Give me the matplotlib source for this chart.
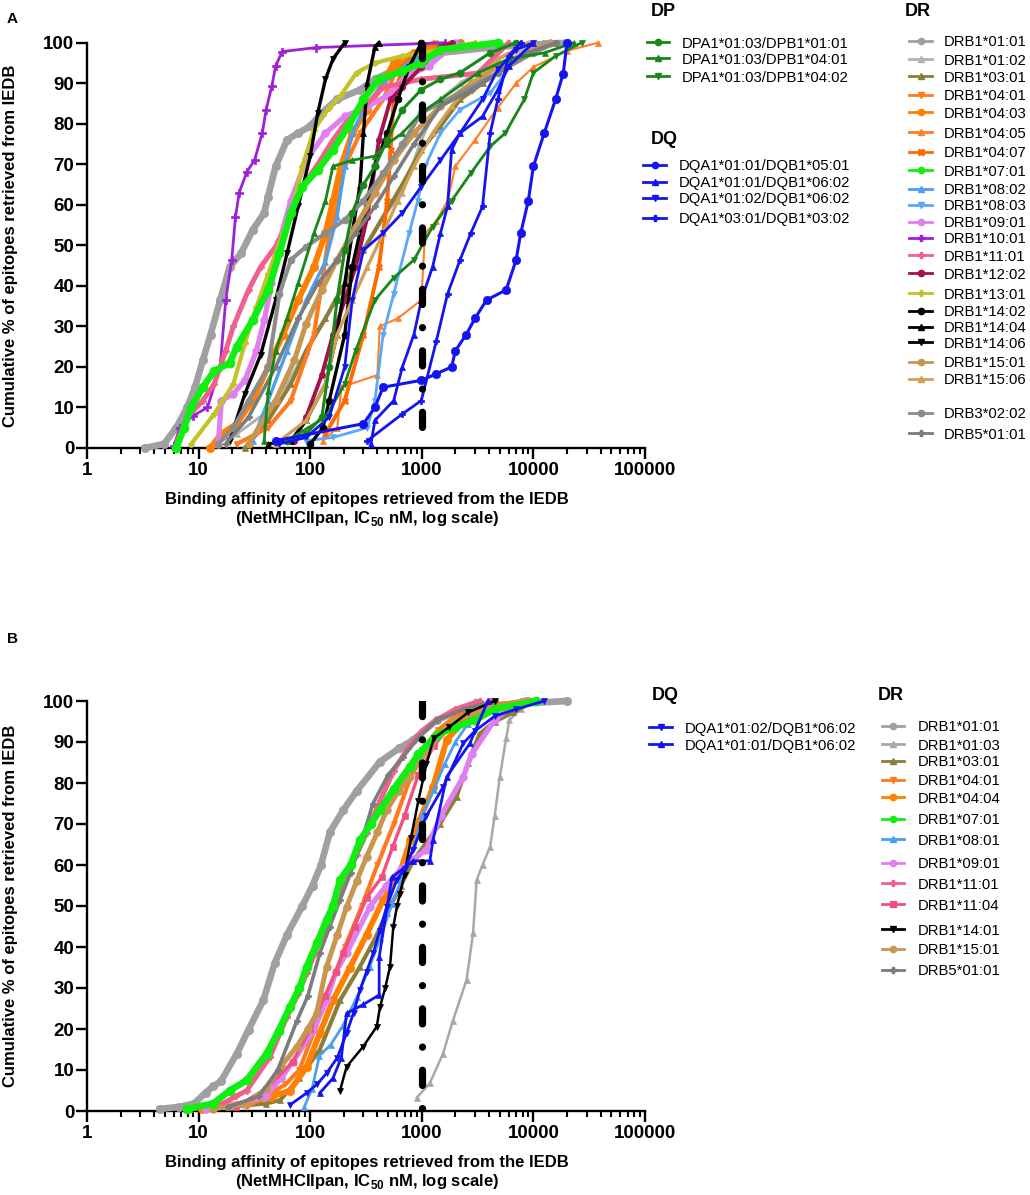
import matplotlib
matplotlib.use("Agg")
import matplotlib.pyplot as plt
from matplotlib.lines import Line2D
from matplotlib.ticker import LogLocator, NullFormatter

plt.rcParams['font.family'] = ['Liberation Sans', 'DejaVu Sans']
plt.rcParams['mathtext.fontset'] = 'custom'
plt.rcParams['mathtext.rm'] = 'Liberation Sans'
plt.rcParams['mathtext.bf'] = 'Liberation Sans:bold'

# ---------------- data (IC50 nM vs cumulative %) ----------------
THRESHOLD_NM = 1000
XTICKS = [1, 10, 100, 1000, 10000, 100000]
XTICK_LABELS = ['1', '10', '100', '1000', '10000', '100000']
YTICKS = list(range(0, 101, 10))

# panel A
A_DRB1_0101_x = [3.3, 4.9, 6.3, 7.9, 9.3, 10.9, 12.8, 15.6, 19, 24, 30.5, 38.7, 41.9, 49, 62, 78, 100, 127, 174, 280, 380, 670, 1470, 4800, 20000]
A_DRB1_0101_y = [0, 1, 5, 10, 15, 21.6, 28, 36.5, 44.7, 48, 53.8, 58, 62, 69.5, 76, 77.7, 79.4, 82.7, 86, 88.4, 91, 94.2, 97.5, 99, 100]
A_DRB1_0102_x = [13.8, 22, 38.7, 62, 92, 137, 204, 300, 450, 670, 990, 1470, 2200, 4800, 10000, 14000]
A_DRB1_0102_y = [1, 3.5, 8.4, 15.8, 24, 32, 40.6, 49, 57, 63, 76, 86, 90, 96, 99, 100]
A_DRB1_0301_x = [26, 42, 67, 92, 137, 204, 300, 450, 670, 990, 1470, 2200, 3500, 7000, 15800]
A_DRB1_0301_y = [0, 6.8, 15.8, 24, 32, 40.6, 48.8, 57, 65, 73.6, 79.4, 86, 90, 96, 100]
A_DRB1_0401_x = [22, 42, 67, 108, 127, 148, 174, 204, 280, 450, 610, 990, 2200]
A_DRB1_0401_y = [1, 5, 11.7, 28, 40.6, 53, 59.6, 69.5, 77.7, 86, 94, 98.3, 100]
A_DRB1_0403_x = [12.7, 16, 22, 30.5, 42, 57, 78, 108, 137, 160, 188, 238, 325, 450, 560, 850, 2200]
A_DRB1_0403_y = [0, 3.5, 6, 11.7, 20, 28, 36.5, 44.7, 53, 61, 69.5, 77.7, 83.5, 90, 95, 97.5, 100]
A_DRB1_0405_x = [130, 175, 190, 400, 420, 610, 990, 1070, 1350, 1700, 2000, 3000, 4800, 7000, 10000, 20000, 38000]
A_DRB1_0405_y = [1.8, 5, 15, 18, 30, 32, 36.5, 53, 56, 61, 69.5, 76, 84, 90, 94, 98, 100]
A_DRB1_0407_x = [137, 204, 300, 413, 490, 525, 560, 670, 990, 1300]
A_DRB1_0407_y = [3.5, 11.7, 28, 44.7, 61, 73.6, 86, 94, 99, 100]
A_DRB1_0701_x = [6.3, 7.4, 8.6, 10.9, 13.8, 19, 22, 30.5, 42, 53, 67, 85, 117, 160, 220, 300, 413, 670, 990, 1470, 4800]
A_DRB1_0701_y = [0, 5, 10, 15, 19, 21, 25, 31.5, 39, 48, 58, 64.5, 68.6, 73.6, 79.4, 86, 91, 93, 95, 98.3, 100]
A_DRB1_0802_x = [30.5, 42, 62, 92, 137, 174, 204, 238, 300, 450, 850, 2200]
A_DRB1_0802_y = [1.8, 11.7, 24, 36.5, 46, 57, 69.5, 77.7, 83.5, 90, 96, 100]
A_DRB1_0803_x = [92, 160, 325, 380, 450, 560, 770, 920, 1070, 1470, 2200, 4100, 7000, 12600]
A_DRB1_0803_y = [1.8, 2.6, 5, 11.7, 28, 38, 53, 61, 69.5, 77.7, 83.5, 87.6, 96, 100]
A_DRB1_0901_x = [15, 16, 20.5, 26, 33, 38.7, 45, 53, 67, 92, 137, 204, 325, 490, 720, 1150, 2000]
A_DRB1_0901_y = [1, 11.7, 13.4, 16.7, 24, 31.5, 40.6, 51, 61, 71, 77.7, 81.8, 84.3, 86.8, 91.7, 94.2, 100]
A_DRB1_1001_x = [6.0, 6.8, 9, 12, 15.6, 17.5, 19.8, 21.4, 23.1, 27.1, 31.7, 37.2, 40.3, 45.3, 49, 56, 113, 1600]
A_DRB1_1001_y = [0.5, 5, 8, 10, 20, 36.5, 46.4, 57, 63, 68.2, 71, 77.7, 83.5, 89.3, 94.2, 97.8, 98.8, 100]
A_DRB1_1101_x = [6.5, 7.9, 10.9, 13.8, 17.5, 20.5, 28, 36, 49, 67, 85, 117, 160, 204, 300, 450, 990, 3200, 6000]
A_DRB1_1101_y = [2, 7.6, 11.7, 15.8, 24, 30, 39, 44.7, 49.7, 57, 64.5, 70, 76, 80, 84, 89, 91, 92.5, 100]
A_DRB1_1202_x = [72, 92, 127, 160, 204, 255, 325, 413, 525, 670, 990, 1470, 1850]
A_DRB1_1202_y = [1.8, 7.6, 18, 28, 36.5, 44.7, 57, 76, 86, 89, 94, 99, 100]
A_DRB1_1301_x = [8.6, 13.8, 20.5, 26, 33, 42, 57, 72, 85, 108, 148, 188, 260, 380, 670, 1470, 3000]
A_DRB1_1301_y = [1, 8.4, 15.8, 25.8, 34.8, 43, 53, 61, 69.5, 78.5, 84, 87, 92.6, 95, 96.7, 98.3, 100]
A_DRB1_1402_x = [100, 130, 148, 204, 238, 300, 380, 490, 610, 770, 990]
A_DRB1_1402_y = [1, 5, 11.7, 28, 44.7, 57, 69.5, 77.7, 86, 94, 100]
A_DRB1_1404_x = [42, 67, 92, 137, 174, 204, 238, 280, 300, 325, 380, 413]
A_DRB1_1404_y = [1, 1.8, 6.8, 15.8, 28, 40.6, 53, 65, 77.7, 90, 99, 100]
A_DRB1_1406_x = [19, 26, 36, 49, 62, 78, 100, 117, 137, 160, 204]
A_DRB1_1406_y = [1.8, 13.4, 23, 36.5, 48, 59.6, 72, 82.7, 91, 96, 100]
A_DRB1_1501_x = [28, 49, 72, 92, 127, 174, 255, 380, 560, 850, 1470, 2800, 4800, 10000, 14000]
A_DRB1_1501_y = [1, 11.7, 21.6, 30.7, 39, 46.4, 54.6, 62.9, 71, 77.7, 84.3, 90, 94.2, 98.3, 100]
A_DRB1_1506_x = [49, 92, 137, 174, 238, 325, 450, 610, 850, 1250, 1850, 2800, 4800, 9000]
A_DRB1_1506_y = [1, 6.8, 15.8, 28, 36.5, 44.7, 53, 61, 69.5, 77.7, 84.3, 90, 96, 100]
A_DRB3_0202_x = [15, 20.5, 28, 42, 53, 67, 92, 137, 204, 300, 450, 670, 990, 2200, 4800, 10000, 15800]
A_DRB3_0202_y = [1, 5, 11.7, 20, 38, 46.4, 49.7, 53, 56.3, 61, 67.8, 75, 82.7, 87.6, 92.6, 97.5, 100]
A_DRB5_0101_x = [17.5, 28, 49, 78, 117, 174, 255, 380, 560, 850, 1470, 2800, 4800, 9000, 15800]
A_DRB5_0101_y = [1, 7.6, 20, 32, 40.6, 46.4, 53, 59.6, 67, 75, 84.3, 88.4, 92.6, 97.5, 100]
A_DP_0101_x = [62, 92, 127, 148, 174, 204, 238, 300, 380, 490, 670, 990, 1470, 2200, 4100, 7000]
A_DP_0101_y = [1.8, 3.5, 7.6, 20, 36.5, 48.8, 58, 65, 69.5, 76, 83.5, 88.4, 91, 92.6, 97.5, 100]
A_DP_0401_x = [38.7, 42, 49, 62, 78, 108, 137, 160, 238, 380, 490, 670, 990, 1470, 3200, 6000, 12600, 23000]
A_DP_0401_y = [1.8, 14, 24, 32, 40.6, 53, 61, 69.5, 71, 72, 75, 77.7, 82.7, 86, 92.6, 96, 97.5, 100]
A_DP_0402_x = [62, 137, 204, 255, 380, 560, 850, 1250, 1850, 2750, 4100, 5600, 8300, 10000, 15800, 27000]
A_DP_0402_y = [1.8, 7.6, 15.8, 24, 36.5, 42, 46.4, 54.6, 61, 67.8, 74.4, 77.7, 86, 92.6, 96.7, 100]
A_DQ_0501_x = [49, 300, 380, 450, 990, 1350, 1850, 2000, 2500, 3000, 3800, 5700, 7000, 7700, 9000, 10000, 12500, 15800, 18500, 20000]
A_DQ_0501_y = [1.8, 6, 10, 15, 16.7, 18.3, 20, 24, 28, 32, 36.5, 39, 46.4, 53, 61, 69.5, 77.7, 86, 92.4, 100]
A_DQ_0101_0602_x = [350, 380, 560, 670, 850, 990, 1250, 1470, 1700, 1850, 2200, 3500, 4800, 6000, 10000]
A_DQ_0101_0602_y = [1, 6.8, 11.7, 20, 28, 36.5, 44.7, 53, 59.6, 73.6, 77.7, 81.8, 88.4, 94.2, 100]
A_DQ_0102_0602_x = [53, 92, 148, 204, 238, 300, 450, 670, 990, 1470, 2200, 3500, 4800, 7000, 10000]
A_DQ_0102_0602_y = [1, 2.6, 7.6, 20, 36.5, 48.8, 53, 58, 64.5, 71, 77.7, 86, 93.4, 98.3, 100]
A_DQ_0302_x = [325, 670, 990, 1350, 1700, 2200, 2750, 3500, 4100, 4800, 6000, 7700]
A_DQ_0302_y = [1.8, 8.4, 11.7, 26.4, 38, 46.4, 53, 59.6, 77.7, 86, 96.7, 100]

# panel B
B_DRB1_0101_x = [4.5, 6.7, 9.1, 11.6, 13.5, 15.8, 22, 28, 38, 48, 62, 85, 105, 125, 150, 198, 260, 422, 630, 835, 1370, 2000, 4500, 19800]
B_DRB1_0101_y = [0.5, 1, 1.8, 4.5, 6, 7.2, 14, 19.8, 27, 36, 43, 50, 55, 60, 68, 73.4, 78, 85.2, 88.5, 90.5, 95.4, 97.2, 99, 100]
B_DRB1_0103_x = [900, 1180, 1550, 1900, 2520, 2880, 3100, 3500, 4100, 4500, 5000, 5700, 6100, 7700, 10600]
B_DRB1_0103_y = [3.2, 6.8, 14, 22, 32, 43.4, 56.3, 60, 64.5, 72, 81.5, 90.9, 95.4, 98, 100]
B_DRB1_0301_x = [8.4, 18.5, 40, 54, 80, 122, 185, 279, 380, 484, 650, 835, 1450, 2050, 2600, 3300, 4500, 6600, 9800]
B_DRB1_0301_y = [0.5, 1, 1.8, 2.7, 8, 15, 27, 35.2, 42, 48.2, 55, 61, 70, 76.7, 85, 92, 95, 97.2, 100]
B_DRB1_0401_x = [27, 40, 60, 80, 110, 150, 205, 290, 400, 560, 760, 1000, 1400, 2200, 4500, 8000]
B_DRB1_0401_y = [1, 3.6, 6.5, 10, 20, 30, 40, 50, 60, 70, 80, 88, 93, 97, 99, 100]
B_DRB1_0404_x = [10.7, 27, 45, 66, 93, 122, 160, 227, 320, 450, 635, 790, 960, 1260, 1670, 2350, 3500, 8500]
B_DRB1_0404_y = [0.5, 2, 3.5, 5, 10.8, 19, 27, 35, 43, 51.5, 58, 66, 71, 79, 90.5, 95, 98, 100]
B_DRB1_0701_x = [7.8, 13.5, 19, 27, 40.7, 52, 66, 80, 93, 115, 140, 160, 185, 230, 279, 350, 422, 560, 783, 930, 1370, 2000, 3000, 4500, 10600]
B_DRB1_0701_y = [0.5, 1.8, 5, 7.5, 14, 19.5, 25.4, 30, 35.2, 41, 46.6, 50, 56.3, 60, 66, 70, 73.4, 78.5, 84, 87, 91.8, 93.6, 95.4, 98, 100]
B_DRB1_0801_x = [88.6, 104, 121, 153, 195, 264, 340, 425, 540, 680, 860, 1000, 1280, 1600, 2000, 2600, 3000]
B_DRB1_0801_y = [1, 5.4, 13.5, 16.2, 20.7, 27.9, 35.1, 42.3, 50.4, 57.6, 64.8, 72, 78.3, 84.6, 90, 94.5, 100]
B_DRB1_0901_x = [11.6, 25, 40, 55, 70, 107, 140, 170, 212, 343, 480, 650, 850, 1100, 1480, 2350, 2800, 4500, 6600, 8500]
B_DRB1_0901_y = [0.5, 1.8, 3.6, 8.1, 12, 19.7, 27, 34, 38.5, 49.8, 55, 59, 61.5, 63.7, 72, 81.5, 87, 95.4, 99, 100]
B_DRB1_1101_x = [13.5, 21.6, 27, 43.6, 62, 78, 93, 110, 131, 173, 212, 260, 320, 420, 560, 750, 1000, 1370, 2000, 3300]
B_DRB1_1101_y = [0.5, 3.6, 5, 13.2, 23, 28.5, 33.6, 38.5, 43.4, 51.5, 58, 62.5, 67.8, 75.5, 83, 88.5, 92.7, 95.4, 98, 100]
B_DRB1_1104_x = [21.6, 40, 70, 100, 135, 170, 198, 250, 320, 437, 550, 700, 930, 1280, 1750, 2600, 4100]
B_DRB1_1104_y = [1, 5.4, 12, 20, 28, 34, 38.5, 45, 52, 57, 64.5, 72, 82, 89, 93.6, 97.2, 100]
B_DRB1_1401_x = [185, 212, 298, 395, 422, 470, 519, 556, 600, 636, 700, 800, 930, 1100, 1280, 1750, 2600, 4500]
B_DRB1_1401_y = [5, 10.8, 15.7, 20.6, 25.4, 30, 35.2, 45, 50, 53, 57.6, 66.6, 75.6, 84.6, 90.9, 93.6, 97.2, 100]
B_DRB1_1501_x = [13.5, 27, 40, 55, 76, 95, 114, 140, 175, 212, 260, 320, 400, 484, 620, 783, 1180, 2000, 3800, 9100]
B_DRB1_1501_y = [0.5, 1.8, 5.4, 11, 15.7, 20, 23.8, 35.2, 43, 49.8, 56, 62, 68, 73.4, 78, 81.5, 89, 95.4, 98, 100]
B_DRB5_0101_x = [18.5, 34.6, 51, 76, 95, 122, 150, 185, 230, 298, 365, 500, 680, 930, 1370, 2400, 4500]
B_DRB5_0101_y = [1, 3.6, 9.9, 22, 28, 38.5, 45, 51.5, 58, 67, 75, 82, 86.4, 91, 95.4, 98, 100]
B_DQ_0102_0602_x = [66, 93, 115, 140, 175, 212, 245, 279, 320, 367, 420, 484, 596, 700, 835, 1100, 1550, 2350, 3000, 4500, 7000, 12500]
B_DQ_0102_0602_y = [1.5, 4.4, 6.5, 9.2, 13, 19, 24, 29.5, 34, 38.5, 44, 49.8, 56.3, 59, 63.7, 72, 79, 89.7, 92.7, 96.3, 98, 100]
B_DQ_0101_0602_x = [122, 160, 190, 212, 300, 415, 415, 540, 835, 1180, 1260, 1670, 2700, 3900]
B_DQ_0101_0602_y = [4.4, 8, 13, 23.8, 26, 28.3, 37.6, 57, 61, 61, 66, 81.5, 89.7, 100]

# ---------------- styles: colour, marker, line width, marker size ----------------
STYLE = {
    'DPA1*01:03/DPB1*01:01': ('#17871a', 'o', 2.2, 5),
    'DPA1*01:03/DPB1*04:01': ('#17871a', '^', 2.0, 5),
    'DPA1*01:03/DPB1*04:02': ('#17871a', 'v', 2.0, 5),
    'DQA1*01:01/DQB1*05:01': ('#1414f0', 'o', 2.2, 6),
    'DQA1*01:01/DQB1*06:02': ('#1414f0', '^', 2.0, 5),
    'DQA1*01:02/DQB1*06:02': ('#1414f0', 'v', 2.0, 5),
    'DQA1*03:01/DQB1*03:02': ('#1414f0', 'P', 2.0, 5),
    'DRB1*01:01': ('#a0a0a2', 'o', 4.8, 6),
    'DRB1*01:02': ('#b2b2b2', '^', 2.2, 5),
    'DRB1*01:03': ('#a8a8a8', '^', 1.8, 5),
    'DRB1*03:01': ('#8b7d3a', '^', 3.0, 5),
    'DRB1*04:01': ('#ff7a1e', 'v', 3.0, 5),
    'DRB1*04:03': ('#ff8000', 'o', 4.2, 6),
    'DRB1*04:04': ('#ff8000', 'o', 4.2, 6),
    'DRB1*04:05': ('#ff7f27', '^', 1.5, 4.5),
    'DRB1*04:07': ('#ff6a00', 'X', 2.8, 5),
    'DRB1*07:01': ('#11ee11', 'o', 4.8, 6.5),
    'DRB1*08:01': ('#4a9ff0', '^', 2.0, 5),
    'DRB1*08:02': ('#4a9ff0', '^', 2.4, 5),
    'DRB1*08:03': ('#5aa8f8', 'v', 2.0, 5),
    'DRB1*09:01': ('#e080f0', 'o', 3.8, 5.5),
    'DRB1*10:01': ('#9d22d6', 'P', 2.0, 5.5),
    'DRB1*11:01': ('#f0608f', 'P', 3.6, 5),
    'DRB1*11:04': ('#f05080', 's', 2.4, 5),
    'DRB1*12:02': ('#a3124d', 'o', 2.8, 4.5),
    'DRB1*13:01': ('#c2c22a', 'P', 3.0, 5),
    'DRB1*14:01': ('#000000', 'v', 1.8, 5),
    'DRB1*14:02': ('#000000', 'o', 2.4, 5),
    'DRB1*14:04': ('#000000', '^', 2.4, 5),
    'DRB1*14:06': ('#000000', 'v', 2.4, 5),
    'DRB1*15:01': ('#c8964f', 'o', 3.6, 5.5),
    'DRB1*15:06': ('#d0a055', '^', 2.4, 5),
    'DRB3*02:02': ('#8c8c8c', 'o', 3.0, 5),
    'DRB5*01:01': ('#7c7c7c', 'P', 2.6, 4.5),
}

SERIES_A = [
    ('DRB1*01:01', A_DRB1_0101_x, A_DRB1_0101_y),
    ('DRB1*01:02', A_DRB1_0102_x, A_DRB1_0102_y),
    ('DRB1*03:01', A_DRB1_0301_x, A_DRB1_0301_y),
    ('DRB1*04:01', A_DRB1_0401_x, A_DRB1_0401_y),
    ('DRB1*04:03', A_DRB1_0403_x, A_DRB1_0403_y),
    ('DRB1*04:05', A_DRB1_0405_x, A_DRB1_0405_y),
    ('DRB1*04:07', A_DRB1_0407_x, A_DRB1_0407_y),
    ('DRB1*08:02', A_DRB1_0802_x, A_DRB1_0802_y),
    ('DRB1*08:03', A_DRB1_0803_x, A_DRB1_0803_y),
    ('DRB1*09:01', A_DRB1_0901_x, A_DRB1_0901_y),
    ('DRB1*10:01', A_DRB1_1001_x, A_DRB1_1001_y),
    ('DRB1*11:01', A_DRB1_1101_x, A_DRB1_1101_y),
    ('DRB1*12:02', A_DRB1_1202_x, A_DRB1_1202_y),
    ('DRB1*13:01', A_DRB1_1301_x, A_DRB1_1301_y),
    ('DRB1*14:02', A_DRB1_1402_x, A_DRB1_1402_y),
    ('DRB1*14:04', A_DRB1_1404_x, A_DRB1_1404_y),
    ('DRB1*14:06', A_DRB1_1406_x, A_DRB1_1406_y),
    ('DRB1*15:01', A_DRB1_1501_x, A_DRB1_1501_y),
    ('DRB1*15:06', A_DRB1_1506_x, A_DRB1_1506_y),
    ('DRB3*02:02', A_DRB3_0202_x, A_DRB3_0202_y),
    ('DRB5*01:01', A_DRB5_0101_x, A_DRB5_0101_y),
    ('DRB1*07:01', A_DRB1_0701_x, A_DRB1_0701_y),
    ('DPA1*01:03/DPB1*01:01', A_DP_0101_x, A_DP_0101_y),
    ('DPA1*01:03/DPB1*04:01', A_DP_0401_x, A_DP_0401_y),
    ('DPA1*01:03/DPB1*04:02', A_DP_0402_x, A_DP_0402_y),
    ('DQA1*01:01/DQB1*05:01', A_DQ_0501_x, A_DQ_0501_y),
    ('DQA1*01:01/DQB1*06:02', A_DQ_0101_0602_x, A_DQ_0101_0602_y),
    ('DQA1*01:02/DQB1*06:02', A_DQ_0102_0602_x, A_DQ_0102_0602_y),
    ('DQA1*03:01/DQB1*03:02', A_DQ_0302_x, A_DQ_0302_y),
]

SERIES_B = [
    ('DRB1*01:01', B_DRB1_0101_x, B_DRB1_0101_y),
    ('DRB1*01:03', B_DRB1_0103_x, B_DRB1_0103_y),
    ('DRB1*03:01', B_DRB1_0301_x, B_DRB1_0301_y),
    ('DRB1*04:01', B_DRB1_0401_x, B_DRB1_0401_y),
    ('DRB1*04:04', B_DRB1_0404_x, B_DRB1_0404_y),
    ('DRB1*08:01', B_DRB1_0801_x, B_DRB1_0801_y),
    ('DRB1*09:01', B_DRB1_0901_x, B_DRB1_0901_y),
    ('DRB1*11:01', B_DRB1_1101_x, B_DRB1_1101_y),
    ('DRB1*11:04', B_DRB1_1104_x, B_DRB1_1104_y),
    ('DRB1*15:01', B_DRB1_1501_x, B_DRB1_1501_y),
    ('DRB5*01:01', B_DRB5_0101_x, B_DRB5_0101_y),
    ('DRB1*07:01', B_DRB1_0701_x, B_DRB1_0701_y),
    ('DRB1*14:01', B_DRB1_1401_x, B_DRB1_1401_y),
    ('DQA1*01:02/DQB1*06:02', B_DQ_0102_0602_x, B_DQ_0102_0602_y),
    ('DQA1*01:01/DQB1*06:02', B_DQ_0101_0602_x, B_DQ_0101_0602_y),
]

LEG_A_DP = ['DPA1*01:03/DPB1*01:01', 'DPA1*01:03/DPB1*04:01', 'DPA1*01:03/DPB1*04:02']
LEG_A_DQ = ['DQA1*01:01/DQB1*05:01', 'DQA1*01:01/DQB1*06:02', 'DQA1*01:02/DQB1*06:02', 'DQA1*03:01/DQB1*03:02']
LEG_A_DR = ['DRB1*01:01', 'DRB1*01:02', 'DRB1*03:01', 'DRB1*04:01', 'DRB1*04:03', 'DRB1*04:05', 'DRB1*04:07',
            'DRB1*07:01', 'DRB1*08:02', 'DRB1*08:03', 'DRB1*09:01', 'DRB1*10:01', 'DRB1*11:01', 'DRB1*12:02',
            'DRB1*13:01', 'DRB1*14:02', 'DRB1*14:04', 'DRB1*14:06', 'DRB1*15:01', 'DRB1*15:06',
            'DRB3*02:02', 'DRB5*01:01']
LEG_B_DQ = ['DQA1*01:02/DQB1*06:02', 'DQA1*01:01/DQB1*06:02']
LEG_B_DR = ['DRB1*01:01', 'DRB1*01:03', 'DRB1*03:01', 'DRB1*04:01', 'DRB1*04:04', 'DRB1*07:01', 'DRB1*08:01',
            'DRB1*09:01', 'DRB1*11:01', 'DRB1*11:04', 'DRB1*14:01', 'DRB1*15:01', 'DRB5*01:01']

# ---------------- layout (pixels) ----------------
W, H = 1030, 1195
fig = plt.figure(figsize=(W / 100, H / 100), dpi=100)


def fx(px):
    return px / W


def fy(py):
    return 1 - py / H


def make_axes(top, bottom):
    ax = fig.add_axes([fx(87), fy(bottom), fx(645) - fx(87), fy(top) - fy(bottom)])
    ax.set_xscale('log')
    ax.set_xlim(1, 100000)
    ax.set_ylim(0, 100)
    ax.spines['top'].set_visible(False)
    ax.spines['right'].set_visible(False)
    for s in ('left', 'bottom'):
        ax.spines[s].set_linewidth(1.7)
    ax.set_xticks(XTICKS, labels=XTICK_LABELS)
    ax.set_yticks(YTICKS)
    ax.xaxis.set_minor_locator(LogLocator(base=10, subs=range(2, 10), numticks=20))
    ax.xaxis.set_minor_formatter(NullFormatter())
    ax.tick_params(which='major', length=8, width=1.7, labelsize=13.5, pad=2)
    ax.tick_params(which='minor', length=4.5, width=1.5)
    ax.tick_params(axis='y', pad=1)
    for t in ax.get_xticklabels() + ax.get_yticklabels():
        t.set_fontweight('bold')
    return ax


def draw(ax, series):
    for lab, xs, ys in series:
        c, m, lw, ms = STYLE[lab]
        ax.plot(xs, ys, color=c, marker=m, lw=lw, ms=ms, mec=c, mfc=c,
                mew=0.5, clip_on=False, zorder=3)
    # 1000 nM binder threshold, dash-dot drawn from the top down
    ax.axvline(THRESHOLD_NM, ymin=1, ymax=0, color='black', lw=5.2,
               ls=(0, (2.1, 3.2, 0.01, 3.2)), dash_capstyle='round', zorder=10)


def legend_rows(labels, ys, hx0, hx1, tx):
    for lab, y in zip(labels, ys):
        c, m, lw, ms = STYLE[lab]
        fig.add_artist(Line2D([fx(hx0), fx(hx1)], [fy(y), fy(y)], color=c, lw=2))
        fig.add_artist(Line2D([fx((hx0 + hx1) / 2)], [fy(y)], color=c, marker=m, ms=4.5, ls='none'))
        fig.text(fx(tx), fy(y + 5.3), lab, fontsize=10.7, ha='left', va='baseline')


def header(txt, x, base):
    fig.text(fx(x), fy(base), txt, fontsize=13, fontweight='bold', ha='left', va='baseline')


def axis_titles(ax_top, ax_bottom):
    cx = fx(367)
    fig.text(cx, fy(ax_bottom + 56), 'Binding affinity of epitopes retrieved from the IEDB',
             fontsize=12, fontweight='bold', ha='center', va='baseline')
    fig.text(cx, fy(ax_bottom + 75), r'(NetMHCIIpan, IC$_{\mathbf{50}}$ nM, log scale)',
             fontsize=12, fontweight='bold', ha='center', va='baseline')
    fig.text(fx(10.5), fy((ax_top + ax_bottom) / 2), 'Cumulative % of epitopes retrieved from IEDB',
             fontsize=12, fontweight='bold', rotation=90, ha='center', va='center')


# panel A
axA = make_axes(42.7, 448)
draw(axA, SERIES_A)
axis_titles(42.7, 448)
fig.text(fx(7), fy(22.7), 'A', fontsize=11, fontweight='bold', ha='left', va='baseline')
header('DP', 651, 15.7)
legend_rows(LEG_A_DP, [42.3, 58.3, 76.3], 647, 669, 682)
header('DQ', 651, 144.3)
legend_rows(LEG_A_DQ, [165, 182, 198, 218], 643, 666, 679)
header('DR', 905, 15.7)
legend_rows(LEG_A_DR, [41, 59.3, 76.3, 95, 112.3, 132.3, 151.7, 170.3, 189, 204.7, 222, 238, 255.3,
                       273.3, 293.3, 310.7, 326.7, 342.3, 361.7, 379, 412.7, 433.3], 909, 932, 944)

# panel B
axB = make_axes(701, 1111)
draw(axB, SERIES_B)
axis_titles(701, 1111)
fig.text(fx(7), fy(642.7), 'B', fontsize=11, fontweight='bold', ha='left', va='baseline')
header('DQ', 651.7, 700)
legend_rows(LEG_B_DQ, [727.3, 744.3], 649, 672, 685)
header('DR', 878, 700)
legend_rows(LEG_B_DR, [726, 744.3, 760.7, 780, 797.3, 818.7, 839.3, 862.7, 883.3, 904.3, 929.3, 949, 970],
            882, 904, 918)

fig.savefig('out.png', dpi=100)
